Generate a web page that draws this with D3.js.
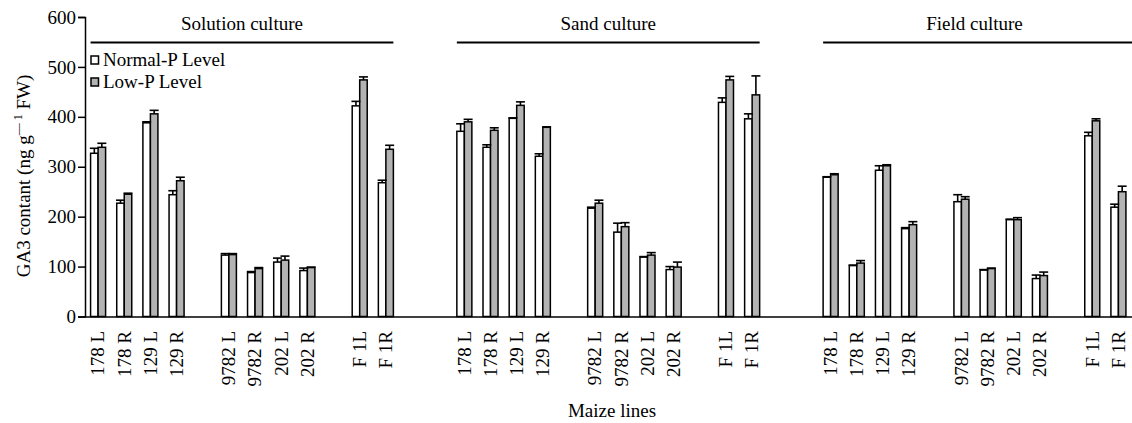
<!DOCTYPE html>
<html>
<head>
<meta charset="utf-8">
<script src="https://cdn.jsdelivr.net/npm/d3@7"></script>
<style>
  html, body { margin: 0; padding: 0; background: #fff; }
  svg { display: block; }
  text { font-family: "Liberation Serif", "Times New Roman", serif; fill: #000; }
</style>
</head>
<body>
<svg id="chart" width="1132" height="423"></svg>
<script>
// ---- data ----
const cultures = ["Solution culture", "Sand culture", "Field culture"];
const lines = ["178 L", "178 R", "129 L", "129 R", "9782 L", "9782 R", "202 L", "202 R", "F 1L", "F 1R"];
const seriesNames = ["Normal-P Level", "Low-P Level"];
const yTicks = [0, 100, 200, 300, 400, 500, 600];

const solutionNormal    = [327, 227, 388, 244, 123, 88, 109, 92, 422, 268];
const solutionNormalErr = [10, 6, 2, 8, 3, 2, 8, 5, 9, 5];
const solutionLow       = [339, 245, 406, 272, 124, 96, 113, 98, 474, 335];
const solutionLowErr    = [8, 2, 7, 7, 2, 2, 8, 1, 6, 8];

const sandNormal    = [371, 339, 397, 321, 217, 169, 119, 94, 429, 396];
const sandNormalErr = [15, 5, 1, 5, 2, 18, 1, 6, 9, 10];
const sandLow       = [390, 373, 423, 379, 227, 180, 123, 99, 474, 444];
const sandLowErr    = [5, 5, 7, 1, 6, 8, 5, 10, 7, 38];

const fieldNormal    = [279, 102, 293, 176, 230, 93, 194, 76, 362, 219];
const fieldNormalErr = [1, 1, 9, 2, 14, 1, 1, 7, 7, 6];
const fieldLow       = [284, 107, 302, 184, 235, 96, 194, 82, 392, 250];
const fieldLowErr    = [2, 5, 2, 6, 5, 1, 4, 7, 4, 11];

const normalVals = [solutionNormal, sandNormal, fieldNormal];
const normalErrs = [solutionNormalErr, sandNormalErr, fieldNormalErr];
const lowVals = [solutionLow, sandLow, fieldLow];
const lowErrs = [solutionLowErr, sandLowErr, fieldLowErr];

// ---- build slot domain (with empty spacer slots) ----
const groupBreaks = [4, 8]; // gap before these line indices
const slotKeys = [];
const realKeys = [];
let gapN = 0;
cultures.forEach((c, ci) => {
  if (ci > 0) { slotKeys.push("gap" + (gapN++)); slotKeys.push("gap" + (gapN++)); }
  lines.forEach((l, li) => {
    if (groupBreaks.includes(li)) slotKeys.push("gap" + (gapN++));
    const k = ci + "|" + l;
    slotKeys.push(k); realKeys.push(k);
  });
});

const records = [];
cultures.forEach((c, ci) => {
  lines.forEach((l, li) => {
    records.push({ key: ci + "|" + l, s: 0, v: normalVals[ci][li], e: normalErrs[ci][li] });
    records.push({ key: ci + "|" + l, s: 1, v: lowVals[ci][li], e: lowErrs[ci][li] });
  });
});

// ---- scales ----
const svg = d3.select("#chart");
const x = d3.scaleBand().domain(slotKeys).range([85, 1131.5]).paddingInner(0.426).paddingOuter(0.213);
const xs = d3.scaleBand().domain([0, 1]).range([0, x.bandwidth()]);
const y = d3.scaleLinear().domain([0, 600]).range([316.5, 17]);
const fills = ["#ffffff", "#b3b3b3"];
const FS = 19;

// ---- bars ----
svg.append("g").selectAll("rect").data(records).join("rect")
  .attr("x", d => x(d.key) + xs(d.s))
  .attr("y", d => y(d.v))
  .attr("width", xs.bandwidth())
  .attr("height", d => y(0) - y(d.v))
  .attr("fill", d => fills[d.s])
  .attr("stroke", "#000")
  .attr("stroke-width", 1.5);

// ---- error bars ----
const eg = svg.append("g").attr("stroke", "#000").attr("stroke-width", 1.6);
eg.selectAll("line.v").data(records).join("line").attr("class", "v")
  .attr("x1", d => x(d.key) + xs(d.s) + xs.bandwidth() / 2)
  .attr("x2", d => x(d.key) + xs(d.s) + xs.bandwidth() / 2)
  .attr("y1", d => y(d.v))
  .attr("y2", d => y(d.v + d.e));
eg.selectAll("line.c").data(records).join("line").attr("class", "c")
  .attr("x1", d => x(d.key) + xs(d.s) + xs.bandwidth() / 2 - 4.5)
  .attr("x2", d => x(d.key) + xs(d.s) + xs.bandwidth() / 2 + 4.5)
  .attr("y1", d => y(d.v + d.e))
  .attr("y2", d => y(d.v + d.e));

// ---- y axis ----
const yAxis = svg.append("g").attr("transform", "translate(85,0)")
  .call(d3.axisLeft(y).tickValues(yTicks).tickSize(7).tickPadding(2));
yAxis.select(".domain").attr("stroke-width", 1.5);
yAxis.selectAll(".tick line").attr("stroke-width", 1.5);
yAxis.selectAll("text").attr("font-size", FS).attr("font-family", "Liberation Serif");

// ---- x axis ----
const xAxis = svg.append("g").attr("transform", "translate(0," + y(0) + ")")
  .call(d3.axisBottom(x).tickValues(realKeys).tickFormat(k => k.split("|")[1]).tickSize(0).tickSizeOuter(0));
xAxis.select(".domain").attr("stroke-width", 1.5);
xAxis.selectAll("text")
  .attr("font-size", FS).attr("font-family", "Liberation Serif")
  .attr("transform", "rotate(-90)")
  .attr("text-anchor", "end")
  .attr("x", -14.5).attr("y", 0).attr("dy", "0.33em");

// ---- culture headers ----
cultures.forEach((c, ci) => {
  const first = ci + "|" + lines[0];
  const last = ci + "|" + lines[lines.length - 1];
  const x0 = x(first), x1 = Math.min(x(last) + x.bandwidth(), 1132);
  svg.append("line").attr("x1", x0).attr("x2", ci === 2 ? 1132 : x1)
    .attr("y1", 42.5).attr("y2", 42.5).attr("stroke", "#000").attr("stroke-width", 2);
  svg.append("text").attr("x", (x0 + x1) / 2).attr("y", 30)
    .attr("text-anchor", "middle").attr("font-size", FS).text(c);
});

// ---- legend ----
const lg = svg.append("g").attr("transform", "translate(91,53)");
seriesNames.forEach((n, i) => {
  const row = lg.append("g").attr("transform", "translate(0," + (i * 22) + ")");
  row.append("rect").attr("x", 0).attr("y", 3).attr("width", 7.5).attr("height", 8)
    .attr("fill", fills[i]).attr("stroke", "#000").attr("stroke-width", 1.5);
  row.append("text").attr("x", 12).attr("y", 12.5).attr("font-size", FS).text(n);
});

// ---- axis titles ----
svg.append("text").attr("x", 612).attr("y", 417).attr("text-anchor", "middle")
  .attr("font-size", FS).text("Maize lines");

const yt = svg.append("text").attr("transform", "translate(30,176) rotate(-90)")
  .attr("text-anchor", "middle").attr("font-size", FS);
yt.append("tspan").text("GA3 contant (ng g");
yt.append("tspan").attr("font-size", 12).attr("dy", -8).text("\u2014 1");
yt.append("tspan").attr("dy", 8).text(" FW)");
</script>
</body>
</html>
